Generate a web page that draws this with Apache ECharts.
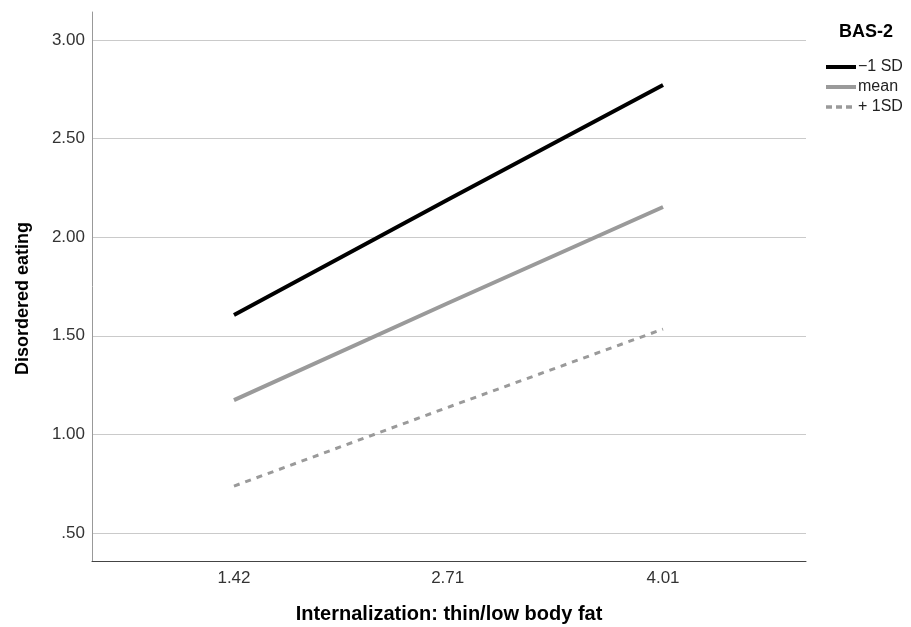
<!DOCTYPE html>
<html><head><meta charset="utf-8">
<script src="https://cdn.jsdelivr.net/npm/echarts@6/dist/echarts.min.js"></script>
<style>html,body{margin:0;padding:0;background:#fff;overflow:hidden}#c{width:911px;height:627px}</style>
</head><body><div id="c"></div>
<script>
const xValues = [1.42, 2.71, 4.01];
const xTickLabels = ['1.42', '2.71', '4.01'];
const yTicks = [0.5, 1.0, 1.5, 2.0, 2.5, 3.0];
const seriesNames = ['\u22121 SD', 'mean', '+ 1SD'];
const minus1SD = [1.605, 2.19, 2.772];
const meanVals = [1.174, 1.665, 2.153];
const plus1SD = [0.738, 1.137, 1.534];

const font = 'Liberation Sans, Arial, sans-serif';
const colors = ['#000', '#9a9a9a', '#9a9a9a'];
const widths = [4, 4, 3];
const dashes = ['solid', 'solid', [6, 6]];
const chart = echarts.init(document.getElementById('c'));
function pairs(vals){ return xValues.map((x,i)=>[x, vals[i]]); }
const allVals = [minus1SD, meanVals, plus1SD];
chart.setOption({
  animation: false,
  title: { text: 'BAS-2', left: 839, top: 23, padding: 0, textStyle: { fontFamily: font, fontSize: 18, fontWeight: 'bold', color: '#000' } },
  legend: {
    orient: 'vertical', left: 824, top: 59, padding: 0, itemWidth: 30, itemHeight: 14, itemGap: 4,
    itemStyle: { color: 'transparent', borderWidth: 0 },
    textStyle: { fontFamily: font, fontSize: 16, color: '#222', padding: [0,0,0,-3] },
    data: seriesNames.map((n, i) => ({ name: n, lineStyle: { width: i === 2 ? 3.5 : 4, type: i === 2 ? [6, 4] : 'solid', color: colors[i] } }))
  },
  grid: { left: 92, top: 12, right: 105, bottom: 66, containLabel: false, outerBoundsMode: 'none' },
  xAxis: {
    type: 'value', min: 0.563, max: 4.873,
    name: 'Internalization: thin/low body fat', nameLocation: 'middle', nameGap: 43,
    nameTextStyle: { fontFamily: font, fontSize: 20, fontWeight: 'bold', color: '#000' },
    axisLine: { show: true, lineStyle: { color: '#444', width: 1 } },
    axisTick: { show: false, customValues: xValues },
    axisLabel: { customValues: xValues, formatter: v => xTickLabels[xValues.indexOf(v)] ?? '', fontFamily: font, fontSize: 17, color: '#333', margin: 9 },
    splitLine: { show: false }
  },
  yAxis: {
    type: 'value', min: 0.358, max: 3.142,
    name: 'Disordered eating', nameLocation: 'middle', nameGap: 60, nameRotate: 90,
    nameTextStyle: { fontFamily: font, fontSize: 18, fontWeight: 'bold', color: '#000', padding: [0, 24, 0, 0] },
    axisLine: { show: true, lineStyle: { color: '#999', width: 1 } },
    axisTick: { show: false, customValues: yTicks },
    axisLabel: { customValues: yTicks, formatter: v => { const s = v.toFixed(2); return s.startsWith('0') ? s.slice(1) : s; }, fontFamily: font, fontSize: 17, color: '#333', margin: 7 },
    splitLine: { show: true, lineStyle: { color: '#cacaca', width: 1 } }
  },
  series: seriesNames.map((n, i) => ({
    name: n, type: 'line', data: pairs(allVals[i]), symbol: 'none',
    lineStyle: { color: colors[i], width: widths[i], type: dashes[i] }, itemStyle: { color: colors[i] }
  }))
});
</script></body></html>
